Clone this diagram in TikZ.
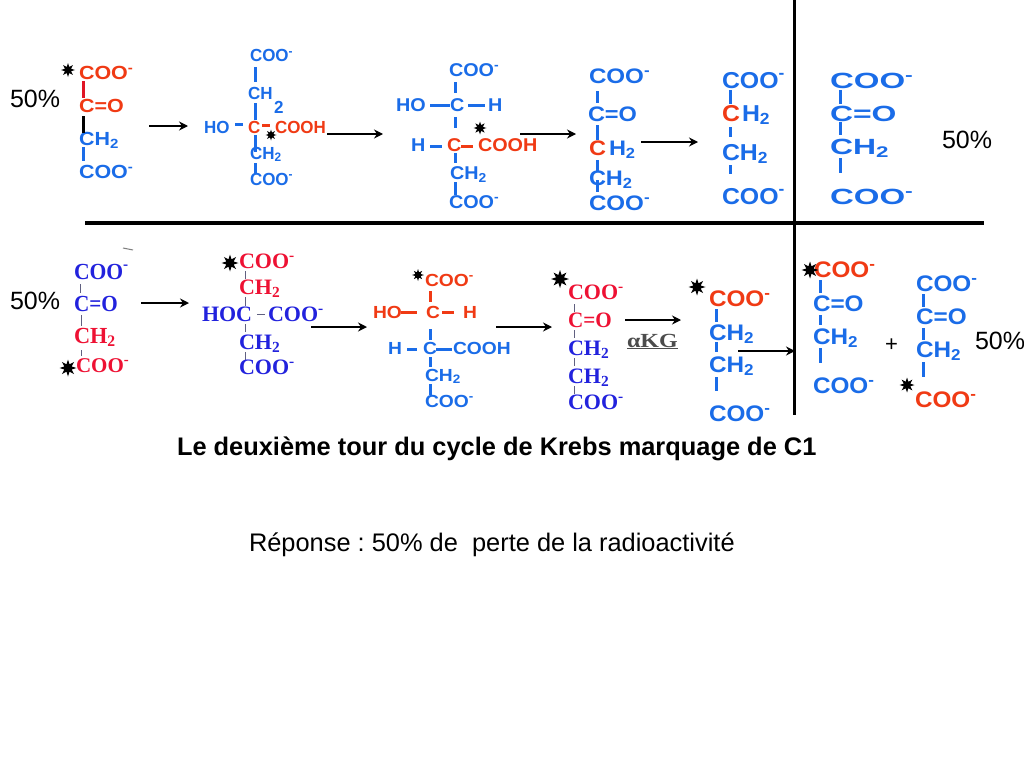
\documentclass[tikz,border=0pt]{standalone}
\usepackage{fontspec}
\usepackage{graphicx}
\setmainfont{Liberation Sans}
\newfontfamily\serifface{Liberation Serif}
\usetikzlibrary{arrows.meta,shapes.geometric}
\definecolor{mblue}{HTML}{1A6CE8}
\definecolor{mred}{HTML}{F03A14}
\definecolor{sblue}{HTML}{2222DD}
\definecolor{sred}{HTML}{EE1133}
\definecolor{bondred}{HTML}{E01525}
\definecolor{thinbond}{HTML}{606080}
\tikzset{
  lbl/.style={anchor=base west,inner sep=0pt,outer sep=0pt},
  plain/.style={lbl,text=black},
  rxn/.style={draw=black,line width=2.8pt,-{Stealth[length=9pt,width=9pt]}},
  rxnthin/.style={draw=black,line width=2.4pt,-{Stealth[length=9pt,width=9pt]}},
  bnd/.style={line width=3pt},
  tbnd/.style={line width=1pt,draw=thinbond},
  burst/.style={star,star points=8,star point ratio=2.1,fill=black,draw=none,inner sep=0pt}
}
% name,x,y,size,stretch,colour,text
\newcommand\mlab[7]{\node[lbl,text=#6] (#1) at (#2,#3) {\fontsize{#4pt}{#4pt}\bfseries\selectfont\scalebox{#5}[1]{#7}};}
\newcommand\slab[7]{\node[lbl,text=#6] (#1) at (#2,#3) {\fontsize{#4pt}{#4pt}\serifface\bfseries\selectfont\scalebox{#5}[1]{#7}};}
% name,x1,y1,x2,y2,colour
\newcommand\bondl[6]{\coordinate (#1a) at (#2,#3);\coordinate (#1b) at (#4,#5);\draw[bnd,draw=#6] (#1a) -- (#1b);}
\newcommand\tbond[5]{\coordinate (#1a) at (#2,#3);\coordinate (#1b) at (#4,#5);\draw[tbnd] (#1a) -- (#1b);}
\newcommand\arrw[5]{\coordinate (#1a) at (#2,#3);\coordinate (#1b) at (#4,#3);\draw[#5] (#1a) -- (#1b);}
\newcommand\brst[4]{\node[burst,minimum size=#4pt] (#1) at (#2,#3) {};}
\newcommand\mns{\textsuperscript{-}}
\newcommand\subtwo{\textsubscript{2}}
\begin{document}
\frenchspacing
\begin{tikzpicture}[x=1pt,y=-1pt]
\useasboundingbox (0,0) rectangle (1024,768);
\fill[white] (0,0) rectangle (1024,768);
% dividers
\coordinate (va) at (794,0);\coordinate (vb) at (794,415);
\coordinate (ha) at (85,223);\coordinate (hb) at (984,223);
\draw[line width=3pt] (va) -- (vb);
\draw[line width=4pt] (ha) -- (hb);
% percent labels
\node[plain,font=\fontsize{25pt}{25pt}\selectfont] (p1) at (10,107) {50\%};
\node[plain,font=\fontsize{25pt}{25pt}\selectfont] (p2) at (942,148) {50\%};
\node[plain,font=\fontsize{25pt}{25pt}\selectfont] (p3) at (10,309) {50\%};
\node[plain,font=\fontsize{25pt}{25pt}\selectfont] (p4) at (975,349) {50\%};
% ---------- top row
% mol 1
\brst{s1}{68}{70}{14}
\mlab{a1}{79}{79}{19}{1.13}{mred}{COO\mns}
\mlab{a2}{79}{112}{19}{1.13}{mred}{C=O}
\mlab{a3}{79}{145}{19}{1.13}{mblue}{CH\subtwo}
\mlab{a4}{79}{178}{19}{1.13}{mblue}{COO\mns}
\bondl{ab1}{83}{81}{83}{98}{bondred}
\bondl{ab2}{83}{116}{83}{133}{black}
\bondl{ab3}{83}{147}{83}{161}{mblue}
\arrw{r1}{149}{126}{188}{rxn}
% mol 2
\mlab{b1}{250}{62}{17.5}{0.97}{mblue}{COO\mns}
\bondl{bb1}{255}{67}{255}{82}{mblue}
\mlab{b2}{248}{99}{17.5}{0.97}{mblue}{CH}
\mlab{b3}{274}{113}{17.5}{0.97}{mblue}{2}
\bondl{bb2}{255}{103}{255}{120}{mblue}
\mlab{b4}{204}{133}{17.5}{0.97}{mblue}{HO}
\bondl{bb3}{235}{124}{243}{124}{mblue}
\mlab{b5}{248}{133}{17.5}{0.97}{mred}{C}
\bondl{bb4}{262}{125}{270}{125}{mred}
\mlab{b6}{275}{133}{17.5}{0.97}{mred}{COOH}
\brst{s2}{271}{135}{11}
\bondl{bb5}{255}{135}{255}{152}{mblue}
\mlab{b7}{250}{159}{17.5}{0.97}{mblue}{CH\subtwo}
\bondl{bb6}{255}{163}{255}{174}{mblue}
\mlab{b8}{250}{185}{17.5}{0.97}{mblue}{COO\mns}
\arrw{r2}{327}{134}{383}{rxn}
% mol 3
\mlab{c1}{449}{76}{18.5}{1.07}{mblue}{COO\mns}
\bondl{cb1}{455}{82}{455}{93}{mblue}
\mlab{c2}{396}{111}{18.5}{1.07}{mblue}{HO}
\bondl{cb2}{430}{105}{450}{105}{mblue}
\mlab{c3}{450}{111}{18.5}{1.07}{mblue}{C}
\bondl{cb3}{468}{105}{485}{105}{mblue}
\mlab{c4}{488}{111}{18.5}{1.07}{mblue}{H}
\bondl{cb4}{455}{117}{455}{128}{mblue}
\mlab{c5}{411}{151}{18.5}{1.07}{mblue}{H}
\bondl{cb5}{430}{146}{442}{146}{mblue}
\mlab{c6}{447}{151}{18.5}{1.07}{mred}{C}
\bondl{cb6}{461}{146}{473}{146}{mred}
\mlab{c7}{478}{151}{18.5}{1.07}{mred}{COOH}
\brst{s3}{480}{128}{13}
\bondl{cb7}{455}{153}{455}{163}{mblue}
\mlab{c8}{450}{179}{18.5}{1.07}{mblue}{CH\subtwo}
\bondl{cb8}{455}{182}{455}{195}{mblue}
\mlab{c9}{449}{208}{18.5}{1.07}{mblue}{COO\mns}
\arrw{r3}{520}{134}{576}{rxn}
% mol 4
\mlab{d1}{589}{83}{21}{1.15}{mblue}{COO\mns}
\bondl{db1}{597}{91}{597}{103}{mblue}
\mlab{d2}{588}{121}{21}{1.12}{mblue}{C=O}
\bondl{db2}{597}{125}{597}{140}{mblue}
\mlab{d3}{589}{155}{21}{1.12}{mred}{C}
\mlab{d4}{609}{155}{21}{1.12}{mblue}{H\subtwo}
\bondl{db3}{597}{160}{597}{172}{mblue}
\mlab{d5}{589}{185}{21}{1.12}{mblue}{CH\subtwo}
\bondl{db4}{597}{180}{597}{192}{mblue}
\mlab{d6}{589}{210}{21}{1.15}{mblue}{COO\mns}
\arrw{r4}{641}{142}{698}{rxn}
% mol 5
\bondl{eb1}{730}{90}{730}{104}{mblue}
\bondl{eb2}{730}{127}{730}{137}{mblue}
\bondl{eb3}{730}{165}{730}{174}{mblue}
\mlab{e1}{722}{88}{23}{1.08}{mblue}{COO\mns}
\mlab{e2}{722}{121}{23}{1.08}{mred}{C}
\mlab{e3}{742}{121}{23}{1.08}{mblue}{H\subtwo}
\mlab{e4}{722}{160}{23}{1.08}{mblue}{CH\subtwo}
\mlab{e5}{722}{204}{23}{1.08}{mblue}{COO\mns}
% mol 6
\mlab{f1}{830}{88}{22}{1.5}{mblue}{COO\mns}
\mlab{f2}{830}{121}{22}{1.45}{mblue}{C=O}
\mlab{f3}{830}{154}{22}{1.45}{mblue}{CH\subtwo}
\mlab{f4}{830}{204}{22}{1.5}{mblue}{COO\mns}
\bondl{fb1}{840}{90}{840}{104}{mblue}
\bondl{fb2}{840}{122}{840}{135}{mblue}
\bondl{fb3}{840}{158}{840}{173}{mblue}
% ---------- bottom row
% mol 1
\coordinate (tka) at (123,248);\coordinate (tkb) at (133,250);
\draw[line width=1pt,draw=gray] (tka) -- (tkb);
\slab{g1}{74}{279}{23}{0.94}{sblue}{COO\mns}
\tbond{gb1}{80}{284}{80}{293}
\slab{g2}{74}{311}{23}{0.92}{sblue}{C=O}
\tbond{gb2}{81}{315}{81}{326}
\slab{g3}{74}{343}{23}{0.97}{sred}{CH\subtwo}
\tbond{gb3}{81}{350}{81}{356}
\slab{g4}{76}{372}{21}{1.0}{sred}{COO\mns}
\brst{s4}{68}{368}{17}
\arrw{r5}{141}{303}{189}{rxn}
% mol 2
\brst{s5}{230}{263}{17}
\slab{h1}{239}{268}{22}{1.0}{sred}{COO\mns}
\tbond{hb1}{245}{271}{245}{279}
\slab{h2}{239}{294}{22}{1.0}{sred}{CH\subtwo}
\tbond{hb2}{245}{297}{245}{306}
\slab{h3}{202}{321}{22}{1.0}{sblue}{HOC}
\tbond{hb3}{257}{314}{265}{314}
\slab{h4}{268}{321}{22}{1.0}{sblue}{COO\mns}
\tbond{hb4}{245}{324}{245}{332}
\slab{h5}{239}{349}{22}{1.0}{sblue}{CH\subtwo}
\tbond{hb5}{245}{352}{245}{360}
\slab{h6}{239}{374}{22}{1.0}{sblue}{COO\mns}
\arrw{r6}{311}{327}{367}{rxn}
% mol 3
\brst{s6}{418}{275}{12}
\mlab{i1}{425}{286}{17.5}{1.1}{mred}{COO\mns}
\bondl{ib1}{430}{291}{430}{302}{mred}
\mlab{i2}{373}{318}{17.5}{1.1}{mred}{HO}
\bondl{ib2}{401}{312}{417}{312}{mred}
\mlab{i3}{426}{318}{17.5}{1.1}{mred}{C}
\bondl{ib3}{442}{312}{454}{312}{mred}
\mlab{i4}{463}{318}{17.5}{1.1}{mred}{H}
\bondl{ib4}{430}{329}{430}{340}{mblue}
\mlab{i5}{388}{354}{17.5}{1.1}{mblue}{H}
\bondl{ib5}{407}{349}{417}{349}{mblue}
\mlab{i6}{423}{354}{17.5}{1.1}{mblue}{C}
\bondl{ib6}{436}{349}{452}{349}{mblue}
\mlab{i7}{453}{354}{17.5}{1.1}{mblue}{COOH}
\bondl{ib7}{430}{357}{430}{367}{mblue}
\mlab{i8}{425}{381}{17.5}{1.1}{mblue}{CH\subtwo}
\bondl{ib8}{430}{384}{430}{395}{mblue}
\mlab{i9}{425}{407}{17.5}{1.1}{mblue}{COO\mns}
\arrw{r7}{496}{327}{552}{rxn}
% mol 4
\brst{s7}{560}{279}{18}
\slab{j1}{568}{299}{22}{1.0}{sred}{COO\mns}
\tbond{jb1}{574}{304}{574}{312}
\slab{j2}{568}{327}{22}{0.96}{sred}{C=O}
\tbond{jb2}{574}{330}{574}{338}
\slab{j3}{568}{355}{22}{1.0}{sblue}{CH\subtwo}
\tbond{jb3}{574}{358}{574}{366}
\slab{j4}{568}{383}{22}{1.0}{sblue}{CH\subtwo}
\tbond{jb4}{574}{386}{574}{394}
\slab{j5}{568}{409}{22}{1.0}{sblue}{COO\mns}
\arrw{r8}{625}{320}{681}{rxn}
\node[lbl,text=black!70] (akg) at (627,347) {\fontsize{20pt}{20pt}\serifface\bfseries\selectfont\scalebox{1.2}[1]{\underline{αKG}}};
% mol 5
\brst{s8}{697}{287}{17}
\mlab{k1}{709}{306}{22.5}{1.08}{mred}{COO\mns}
\bondl{kb1}{716}{309}{716}{322}{mblue}
\mlab{k2}{709}{340}{22.5}{1.08}{mblue}{CH\subtwo}
\bondl{kb2}{716}{342}{716}{352}{mblue}
\mlab{k3}{709}{372}{22.5}{1.08}{mblue}{CH\subtwo}
\bondl{kb3}{716}{377}{716}{391}{mblue}
\mlab{k4}{709}{421}{22.5}{1.08}{mblue}{COO\mns}
\arrw{r9}{738}{351}{795}{rxnthin}
% mol 6
\mlab{l1}{814}{277}{22.5}{1.08}{mred}{COO\mns}
\brst{s9}{810}{270}{17}
\bondl{lb1}{820}{280}{820}{293}{mblue}
\mlab{l2}{813}{311}{22.5}{1.08}{mblue}{C=O}
\bondl{lb2}{820}{315}{820}{325}{mblue}
\mlab{l3}{813}{344}{22.5}{1.08}{mblue}{CH\subtwo}
\bondl{lb3}{820}{348}{820}{363}{mblue}
\mlab{l4}{813}{393}{22.5}{1.08}{mblue}{COO\mns}
\node[plain,font=\fontsize{22pt}{22pt}\selectfont] (plus) at (885,351) {+};
% mol 7
\mlab{m1}{916}{291}{22.5}{1.08}{mblue}{COO\mns}
\bondl{mb1}{923}{294}{923}{307}{mblue}
\mlab{m2}{916}{324}{22.5}{1.08}{mblue}{C=O}
\bondl{mb2}{923}{328}{923}{340}{mblue}
\mlab{m3}{916}{357}{22.5}{1.08}{mblue}{CH\subtwo}
\bondl{mb3}{923}{362}{923}{377}{mblue}
\brst{s10}{907}{385}{15}
\mlab{m4}{915}{407}{22.5}{1.08}{mred}{COO\mns}
% captions
\node[plain,font=\fontsize{25.4pt}{25.4pt}\bfseries\selectfont] (title) at (177,455) {Le deuxième tour du cycle de Krebs marquage de C1};
\node[plain,font=\fontsize{25.4pt}{25.4pt}\selectfont] (answer) at (249,551) {Réponse : 50\% de\ \ perte de la radioactivité};
\end{tikzpicture}
\end{document}
